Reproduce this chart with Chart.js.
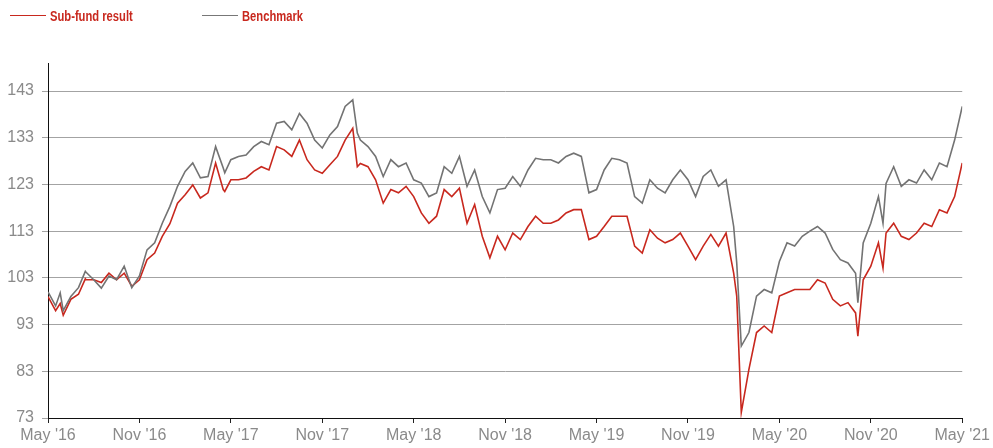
<!DOCTYPE html>
<html>
<head>
<meta charset="utf-8">
<script src="https://cdn.jsdelivr.net/npm/chart.js@4/dist/chart.umd.min.js"></script>
<style>
  html,body{margin:0;padding:0;background:#fff;}
  #wrap{position:relative;width:993px;height:448px;}
  #c{position:absolute;left:0;top:0;}
  .leg{position:absolute;top:7px;height:18px;font-family:"Liberation Sans","Arial Narrow",Arial,sans-serif;font-weight:bold;font-size:14px;color:#c8281e;line-height:18px;white-space:nowrap;}
  .leg i{position:absolute;left:0;top:8px;width:36px;height:0;border-top:1.6px solid;}
  .leg span{position:absolute;left:40px;top:0;transform:scaleX(0.8);transform-origin:0 50%;}
</style>
</head>
<body>
<div id="wrap">
  <canvas id="c" width="993" height="448"></canvas>
  <div class="leg" style="left:10px;"><i style="border-color:#c8281e"></i><span>Sub-fund result</span></div>
  <div class="leg" style="left:202px;"><i style="border-color:#777"></i><span>Benchmark</span></div>
</div>
<script>
// months since May 2016
const months = [0,0.5,0.8,1,1.5,2,2.45,2.5,3,3.5,4,4.5,5,5.5,6,6.5,7,7.5,8,8.5,9,9.5,
  10,10.5,11,11.5,11.6,12,12.5,13,13.5,14,14.5,15,15.5,16,16.5,17,17.5,18,18.5,19,19.5,
  20,20.3,20.5,21,21.5,22,22.5,23,23.5,24,24.5,25,25.5,26,26.5,27,27.5,28,28.5,29,29.5,
  30,30.5,31,31.5,32,32.5,33,33.5,34,34.5,35,35.5,36,36.5,37,37.5,38,38.5,39,39.5,
  40,40.5,41,41.5,42,42.5,43,43.5,44,44.5,45,45.2,45.5,46,46.5,47,47.5,48,48.5,49,49.5,
  50,50.5,51,51.5,52,52.5,53,53.15,53.5,54,54.5,54.8,55,55.5,56,56.5,57,57.5,58,58.5,59,59.5,60];
const subFund = [99,96,97.5,95,98.4,99.5,102.8,102.6,102.6,102,104,102.6,104,101.2,102.6,106.9,108.3,111.9,114.6,119,120.8,122.9,
  120.1,121.2,127.6,121.9,121.5,124,124,124.4,125.8,126.8,126.1,131.1,130.4,129,132.5,128.3,126.1,125.4,127.2,129,132.5,
  135,126.8,127.5,126.8,124,119,121.9,121.2,122.6,120.4,116.9,114.7,116.2,121.9,120.4,122.2,114.7,118.7,111.9,107.3,111.9,
  109,112.6,111.2,114,116.2,114.7,114.7,115.4,116.9,117.6,117.6,111.2,111.9,114,116.2,116.2,116.2,109.8,108.3,113.3,
  111.5,110.5,111.2,112.6,109.8,106.9,109.8,112.3,109.8,112.6,104,99.1,74.2,83.4,91.3,92.7,91.3,99.1,99.8,100.5,100.5,
  100.5,102.6,101.9,98.4,97,97.7,95.5,90.5,102.6,105.5,110.5,105.1,112.6,114.7,111.9,111.2,112.6,114.7,114,117.6,116.9,120.4,127.6];
const benchmark = [100,97,99.8,96,99,100.9,104.4,104.2,102.6,100.8,103.4,102.6,105.5,100.9,103.4,109,110.5,114.7,118.3,122.6,125.8,127.6,
  124.4,124.7,131.1,126.5,125.5,128.3,129,129.3,131.1,132.2,131.5,136.1,136.5,134.7,138.2,136.1,132.5,130.8,133.6,135.4,139.7,
  141.1,134,132.5,131.1,129,124.7,128.3,126.8,127.6,124,123.3,120.4,121.2,126.8,125.4,129,122.6,126.1,120.4,116.9,121.9,
  122.2,124.7,122.6,126.1,128.6,128.3,128.3,127.6,129,129.7,129,121.2,121.9,126.1,128.6,128.3,127.6,120.4,119,124,
  122.2,121.2,124,126.1,124,120.4,124.7,126.1,122.6,124,114,106.2,88.4,91.3,99.1,100.5,99.8,106.5,110.5,109.8,111.9,
  113,114,112.6,109.1,106.9,106.2,104,97.7,110.5,114.7,120.4,114.7,123.2,126.8,122.6,124,123.3,126.1,124,127.6,126.8,132.5,139.7];
const yTicks = [73,83,93,103,113,123,133,143];
const xTickLabels = ["May '16","Nov '16","May '17","Nov '17","May '18","Nov '18","May '19","Nov '19","May '20","Nov '20","May '21"];

const toPts = arr => arr.map((v,i)=>({x:months[i],y:v}));
const tickFont = {family:"'Liberation Sans', Arial, Helvetica, sans-serif", size:16};

new Chart(document.getElementById('c'), {
  type:'line',
  data:{datasets:[
    {label:'Sub-fund result',data:toPts(subFund),borderColor:'#c8281e',borderWidth:1.6,pointRadius:0,tension:0,order:2},
    {label:'Benchmark',data:toPts(benchmark),borderColor:'#737373',borderWidth:1.6,pointRadius:0,tension:0,order:1}
  ]},
  options:{
    responsive:false,animation:false,
    layout:{padding:{left:0,right:30,top:63,bottom:0}},
    plugins:{legend:{display:false},tooltip:{enabled:false}},
    scales:{
      x:{type:'linear',min:0,max:60,
        afterBuildTicks:s=>{s.ticks=xTickLabels.map((l,i)=>({value:i*6}));},
        afterFit:s=>{s.height=30;},
        ticks:{callback:(v,i)=>xTickLabels[i],color:'#8a8a8a',font:tickFont,padding:3,maxRotation:0,autoSkip:false},
        grid:{drawOnChartArea:false,drawTicks:true,tickLength:5,color:'#222',lineWidth:1},
        border:{color:'#111',width:1}
      },
      y:{min:73,max:149,
        afterBuildTicks:s=>{s.ticks=yTicks.map(v=>({value:v}));},
        afterFit:s=>{s.width=48;},
        ticks:{color:'#8a8a8a',font:tickFont,padding:8},
        grid:{color:'#a3a3a3',lineWidth:1,tickLength:6,drawTicks:true},
        border:{color:'#111',width:1}
      }
    }
  }
});
</script>
</body>
</html>
